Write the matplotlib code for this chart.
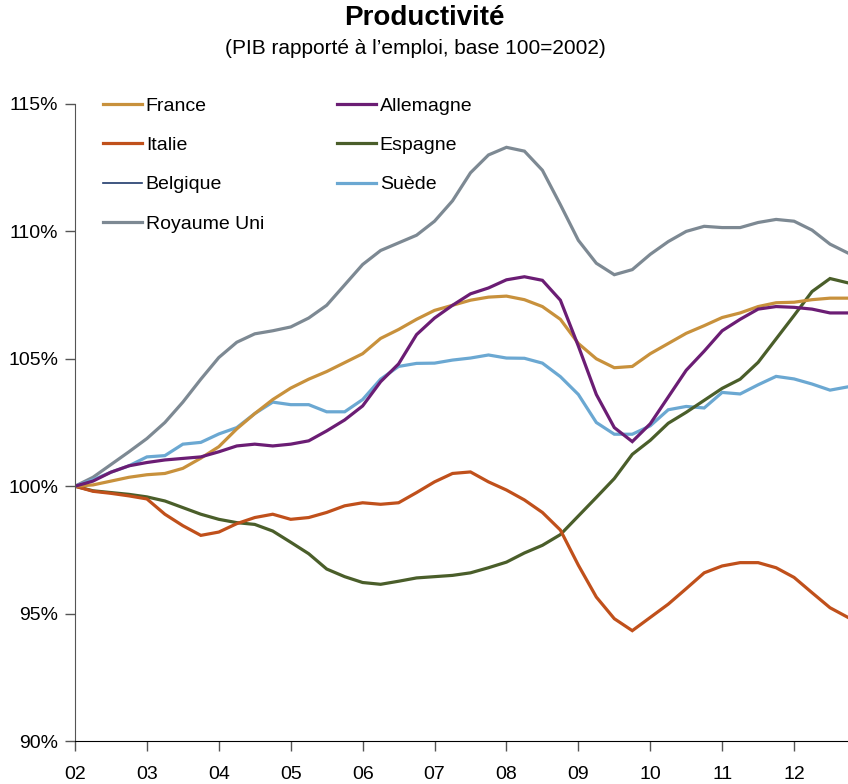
import matplotlib
matplotlib.use("Agg")
import matplotlib.pyplot as plt
from matplotlib.lines import Line2D
from matplotlib.ticker import FuncFormatter, MultipleLocator
import numpy as np

plt.rcParams['font.family'] = ['Liberation Sans', 'DejaVu Sans']

# quarterly index, 2002Q1 .. 2012Q4 (base 100 = 2002)
years = ['02', '03', '04', '05', '06', '07', '08', '09', '10', '11', '12']

france = [100, 100.05, 100.2, 100.35, 100.45, 100.5, 100.7, 101.1, 101.55, 102.25, 102.85,
          103.4, 103.85, 104.2, 104.5, 104.85, 105.2, 105.8, 106.15, 106.55, 106.9, 107.1,
          107.3, 107.42, 107.46, 107.32, 107.05, 106.55, 105.6, 105.0, 104.65, 104.7, 105.2,
          105.6, 106.0, 106.3, 106.62, 106.8, 107.05, 107.2, 107.22, 107.32, 107.38, 107.38]
allemagne = [100, 100.2, 100.55, 100.8, 100.93, 101.03, 101.09, 101.15, 101.35, 101.58, 101.65,
             101.58, 101.65, 101.78, 102.17, 102.6, 103.15, 104.1, 104.8, 105.95, 106.6, 107.1,
             107.55, 107.78, 108.1, 108.22, 108.08, 107.3, 105.5, 103.6, 102.3, 101.75, 102.45,
             103.5, 104.55, 105.3, 106.1, 106.55, 106.95, 107.05, 107.02, 106.95, 106.8, 106.8]
italie = [100, 99.8, 99.72, 99.62, 99.5, 98.9, 98.45, 98.07, 98.2, 98.53, 98.77,
          98.9, 98.7, 98.77, 98.97, 99.23, 99.35, 99.29, 99.35, 99.75, 100.17, 100.5,
          100.56, 100.17, 99.85, 99.46, 98.97, 98.28, 96.9, 95.65, 94.8, 94.33, 94.85,
          95.37, 95.98, 96.6, 96.87, 97.0, 97.0, 96.8, 96.42, 95.82, 95.23, 94.85]
espagne = [100, 99.82, 99.75, 99.68, 99.58, 99.42, 99.16, 98.9, 98.7, 98.57, 98.5,
           98.24, 97.8, 97.35, 96.75, 96.45, 96.22, 96.15, 96.27, 96.4, 96.45, 96.5,
           96.6, 96.8, 97.02, 97.38, 97.68, 98.1, 98.83, 99.56, 100.3, 101.25, 101.8,
           102.47, 102.9, 103.37, 103.84, 104.2, 104.86, 105.78, 106.7, 107.64, 108.15, 107.98]
suede = [100, 100.25, 100.55, 100.8, 101.15, 101.2, 101.65, 101.72, 102.05, 102.3, 102.85,
         103.3, 103.2, 103.2, 102.92, 102.92, 103.4, 104.2, 104.7, 104.82, 104.83, 104.95,
         105.03, 105.15, 105.03, 105.02, 104.83, 104.3, 103.6, 102.5, 102.04, 102.04, 102.37,
         103.0, 103.13, 103.07, 103.68, 103.62, 103.98, 104.31, 104.21, 104.01, 103.77, 103.9]
royaume_uni = [100, 100.35, 100.85, 101.35, 101.87, 102.5, 103.3, 104.2, 105.05, 105.65, 105.98,
               106.1, 106.25, 106.6, 107.1, 107.9, 108.7, 109.25, 109.55, 109.85, 110.4, 111.2,
               112.3, 113.0, 113.3, 113.15, 112.4, 111.05, 109.65, 108.75, 108.3, 108.5, 109.1,
               109.6, 110.0, 110.2, 110.15, 110.15, 110.35, 110.47, 110.4, 110.05, 109.5, 109.15]

colors = {'France': '#C8913C', 'Allemagne': '#6B1D74', 'Italie': '#C0501B',
          'Espagne': '#4A5E2A', 'Belgique': '#1F3A6B', 'Suède': '#6BA8D2',
          'Royaume Uni': '#7D8993'}

W, H = 848, 784
fig = plt.figure(figsize=(W / 100, H / 100), dpi=100)
ax = fig.add_axes([75 / W, 1 - 741 / H, 773 / W, 637 / H])

x = np.arange(len(france))
series = [('Royaume Uni', royaume_uni), ('Suède', suede), ('Espagne', espagne),
          ('Italie', italie), ('France', france), ('Allemagne', allemagne)]
handles = {}
for name, vals in series:
    ln, = ax.plot(x, vals, color=colors[name], lw=2.3, solid_joinstyle='miter')
    handles[name] = ln
# Belgique only appears in the legend
handles['Belgique'] = Line2D([], [], color=colors['Belgique'], lw=1.2)

ax.set_xlim(0, len(france) - 1)
ax.set_ylim(90, 115)
ax.set_xticks(np.arange(0, len(france), 4))
ax.set_xticklabels(years)
ax.yaxis.set_major_locator(MultipleLocator(5))
ax.yaxis.set_major_formatter(FuncFormatter(lambda v, p: '%d%%' % v))
for s in ['top', 'right']:
    ax.spines[s].set_visible(False)
ax.spines['left'].set_color('#555555')
ax.spines['bottom'].set_color('black')
ax.tick_params(axis='y', direction='out', length=7, width=1, color='#555555',
               labelsize=14, pad=5)
ax.tick_params(axis='x', direction='out', length=7, width=1, color='#555555',
               labelsize=14, pad=11)

order = ['France', 'Italie', 'Belgique', 'Royaume Uni', 'Allemagne', 'Espagne', 'Suède']
ax.legend([handles[n] for n in order], order, ncol=2, frameon=False, fontsize=14,
          loc='upper left', bbox_to_anchor=(28 / 773, 1 + 7 / 637),
          borderpad=0, borderaxespad=0, handlelength=2.0, handletextpad=0.2,
          labelspacing=1.12, columnspacing=3.75)

fig.text(0.5, 1 - 18 / H, 'Productivité', ha='center', va='center',
         fontsize=20, fontweight='bold')
fig.text(0.49, 1 - 48 / H, '(PIB rapporté à l\u2019emploi, base 100=2002)',
         ha='center', va='center', fontsize=15)

fig.savefig('out.png', dpi=100)
